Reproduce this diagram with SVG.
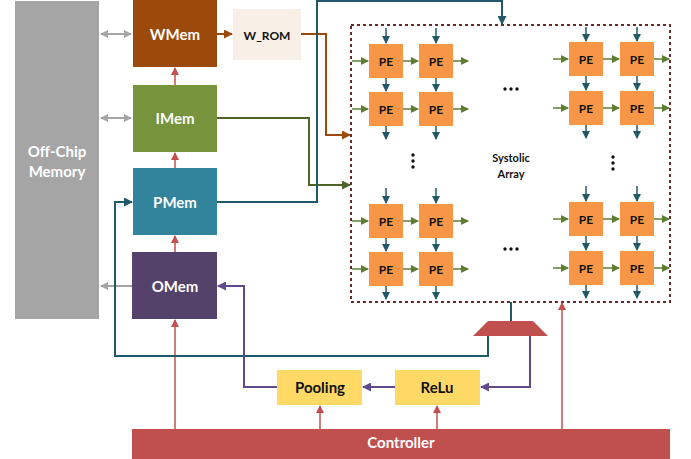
<svg xmlns="http://www.w3.org/2000/svg" width="691" height="459" viewBox="0 0 691 459">
<defs>
<style>
.lbl{font-family:Lato,"Liberation Sans",sans-serif;font-weight:bold;text-anchor:middle;dominant-baseline:central}
.w{fill:#ffffff;font-size:15px}
.k{fill:#111111;font-size:15px}
.pe{fill:#f79646}
.pet{font-family:Lato,"Liberation Sans",sans-serif;font-weight:bold;text-anchor:middle;dominant-baseline:central;font-size:12px;fill:#111}
.c{fill:none;stroke-width:2}
.gd{stroke:#215968;stroke-width:1.5;fill:none;marker-end:url(#mt)}
.gh{stroke:#5e7d32;stroke-width:1.5;fill:none;marker-end:url(#mg)}
</style>
<marker id="mt" markerUnits="userSpaceOnUse" markerWidth="8" markerHeight="8" refX="7" refY="4" orient="auto"><path d="M0,0 L8,4 L0,8 Z" fill="#215968"/></marker>
<marker id="mg" markerUnits="userSpaceOnUse" markerWidth="8" markerHeight="8" refX="7" refY="4" orient="auto"><path d="M0,0 L8,4 L0,8 Z" fill="#5e7d32"/></marker>
<marker id="mr" markerUnits="userSpaceOnUse" markerWidth="8" markerHeight="8" refX="7" refY="4" orient="auto"><path d="M0,0 L8,4 L0,8 Z" fill="#c0504d"/></marker>
<marker id="mgray" markerUnits="userSpaceOnUse" markerWidth="8" markerHeight="8" refX="7" refY="4" orient="auto-start-reverse"><path d="M0,0 L8,4 L0,8 Z" fill="#a5a5a5"/></marker>
<marker id="mb" markerUnits="userSpaceOnUse" markerWidth="9" markerHeight="9" refX="8" refY="4.5" orient="auto"><path d="M0,0 L9,4.5 L0,9 Z" fill="#9c4a0c"/></marker>
<marker id="mgr" markerUnits="userSpaceOnUse" markerWidth="9" markerHeight="9" refX="8" refY="4.5" orient="auto"><path d="M0,0 L9,4.5 L0,9 Z" fill="#4f6228"/></marker>
<marker id="mtl" markerUnits="userSpaceOnUse" markerWidth="9" markerHeight="9" refX="8" refY="4.5" orient="auto"><path d="M0,0 L9,4.5 L0,9 Z" fill="#215968"/></marker>
<marker id="mp" markerUnits="userSpaceOnUse" markerWidth="9" markerHeight="9" refX="8" refY="4.5" orient="auto"><path d="M0,0 L9,4.5 L0,9 Z" fill="#5f4b8b"/></marker>
</defs>

<g id="offchip"><rect x="15" y="1" width="84" height="318" fill="#a5a5a5"/><text class="lbl w" x="57" y="151">Off-Chip</text><text class="lbl w" x="57" y="171">Memory</text></g>
<g id="wmem"><rect x="133" y="0" width="84" height="67" fill="#9c4a0c"/><text class="lbl w" x="175" y="34">WMem</text></g>
<g id="wrom"><rect x="233" y="9" width="68" height="51" fill="#f8efe6"/><text class="lbl" x="267" y="35" style="font-size:12px;fill:#111">W_ROM</text></g>
<g id="imem"><rect x="133" y="85" width="84" height="67" fill="#77933c"/><text class="lbl w" x="175" y="118">IMem</text></g>
<g id="pmem"><rect x="133" y="168" width="84" height="67" fill="#31849b"/><text class="lbl w" x="175" y="202">PMem</text></g>
<g id="omem"><rect x="132" y="252" width="85" height="67" fill="#55426a"/><text class="lbl w" x="175" y="286">OMem</text></g>
<g id="pooling"><rect x="277" y="370" width="85" height="35" fill="#ffd966"/><text class="lbl k" x="320" y="387">Pooling</text></g>
<g id="relu"><rect x="395" y="370" width="85" height="35" fill="#ffd966"/><text class="lbl k" x="437" y="387">ReLu</text></g>
<g id="controller"><rect x="132" y="429" width="538" height="30" fill="#c0504d"/><text class="lbl w" x="401" y="442">Controller</text></g>
<g id="mux"><path d="M488,321 L533,321 L548,336 L473,336 Z" fill="#c0504d"/></g>

<g id="systolic">
<rect x="351" y="25" width="319" height="277" fill="none" stroke="#6b2a2a" stroke-width="2" stroke-dasharray="3,3"/>
<text class="lbl" x="511" y="157" style="font-size:11px;fill:#111">Systolic</text>
<text class="lbl" x="511" y="173" style="font-size:11px;fill:#111">Array</text>
<g fill="#111">
<circle cx="505" cy="89" r="1.7"/><circle cx="511" cy="89" r="1.7"/><circle cx="517" cy="89" r="1.7"/>
<circle cx="505" cy="249" r="1.7"/><circle cx="511" cy="249" r="1.7"/><circle cx="517" cy="249" r="1.7"/>
<circle cx="413" cy="155" r="1.7"/><circle cx="413" cy="161" r="1.7"/><circle cx="413" cy="167" r="1.7"/>
<circle cx="613" cy="157" r="1.7"/><circle cx="613" cy="163" r="1.7"/><circle cx="613" cy="169" r="1.7"/>
</g>
<g id="pe-grid">
<rect class="pe" x="369" y="44" width="34" height="34"/><text class="pet" x="386" y="61">PE</text>
<rect class="pe" x="419" y="44" width="34" height="34"/><text class="pet" x="436" y="61">PE</text>
<rect class="pe" x="369" y="92" width="34" height="34"/><text class="pet" x="386" y="109">PE</text>
<rect class="pe" x="419" y="92" width="34" height="34"/><text class="pet" x="436" y="109">PE</text>
<rect class="pe" x="369" y="204" width="34" height="34"/><text class="pet" x="386" y="221">PE</text>
<rect class="pe" x="419" y="204" width="34" height="34"/><text class="pet" x="436" y="221">PE</text>
<rect class="pe" x="369" y="252" width="34" height="34"/><text class="pet" x="386" y="269">PE</text>
<rect class="pe" x="419" y="252" width="34" height="34"/><text class="pet" x="436" y="269">PE</text>
<rect class="pe" x="569" y="42" width="34" height="34"/><text class="pet" x="586" y="59">PE</text>
<rect class="pe" x="620" y="42" width="34" height="34"/><text class="pet" x="637" y="59">PE</text>
<rect class="pe" x="569" y="91" width="34" height="34"/><text class="pet" x="586" y="108">PE</text>
<rect class="pe" x="620" y="91" width="34" height="34"/><text class="pet" x="637" y="108">PE</text>
<rect class="pe" x="569" y="202" width="34" height="34"/><text class="pet" x="586" y="219">PE</text>
<rect class="pe" x="620" y="202" width="34" height="34"/><text class="pet" x="637" y="219">PE</text>
<rect class="pe" x="569" y="251" width="34" height="34"/><text class="pet" x="586" y="268">PE</text>
<rect class="pe" x="620" y="251" width="34" height="34"/><text class="pet" x="637" y="268">PE</text>
</g>
</g>

<g id="connectors">
<g id="grid-arrows">
<path class="gd" d="M386,28V43"/><path class="gd" d="M436,28V43"/><path class="gd" d="M386,78V91"/><path class="gd" d="M436,78V91"/>
<path class="gd" d="M386,126V139"/><path class="gd" d="M436,126V139"/><path class="gd" d="M386,188V203"/><path class="gd" d="M436,188V203"/>
<path class="gd" d="M386,238V251"/><path class="gd" d="M436,238V251"/><path class="gd" d="M386,286V299"/><path class="gd" d="M436,286V299"/>
<path class="gd" d="M586,27V41"/><path class="gd" d="M637,27V41"/><path class="gd" d="M586,76V90"/><path class="gd" d="M637,76V90"/>
<path class="gd" d="M586,125V138"/><path class="gd" d="M637,125V138"/><path class="gd" d="M586,186V201"/><path class="gd" d="M637,186V201"/>
<path class="gd" d="M586,236V250"/><path class="gd" d="M637,236V250"/><path class="gd" d="M586,285V298"/><path class="gd" d="M637,285V298"/>
<path class="gh" d="M352,61H368"/><path class="gh" d="M403,61H418"/><path class="gh" d="M453,61H468"/>
<path class="gh" d="M352,109H368"/><path class="gh" d="M403,109H418"/><path class="gh" d="M453,109H468"/>
<path class="gh" d="M352,221H368"/><path class="gh" d="M403,221H418"/><path class="gh" d="M453,221H468"/>
<path class="gh" d="M352,269H368"/><path class="gh" d="M403,269H418"/><path class="gh" d="M453,269H468"/>
<path class="gh" d="M553,59H568"/><path class="gh" d="M603,59H619"/><path class="gh" d="M654,59H669"/>
<path class="gh" d="M553,108H568"/><path class="gh" d="M603,108H619"/><path class="gh" d="M654,108H669"/>
<path class="gh" d="M553,219H568"/><path class="gh" d="M603,219H619"/><path class="gh" d="M654,219H669"/>
<path class="gh" d="M553,268H568"/><path class="gh" d="M603,268H619"/><path class="gh" d="M654,268H669"/>
</g>
<path d="M101,34H131" stroke="#a5a5a5" stroke-width="2" marker-start="url(#mgray)" marker-end="url(#mgray)"/>
<path d="M101,118H131" stroke="#a5a5a5" stroke-width="2" marker-start="url(#mgray)" marker-end="url(#mgray)"/>
<path d="M132,286H101" stroke="#a5a5a5" stroke-width="2" marker-end="url(#mgray)"/>
<g stroke="#c0504d" stroke-width="1.5" fill="none" marker-end="url(#mr)">
<path d="M175,85V68"/><path d="M175,168V153"/><path d="M175,252V236"/><path d="M175,429V320"/>
<path d="M320,429V406"/><path d="M437,429V406"/><path d="M562,429V303"/>
</g>
<path class="c" d="M217,34H232" stroke="#9c4a0c" marker-end="url(#mb)"/>
<path class="c" d="M301,34H326V135H350" stroke="#9c4a0c" marker-end="url(#mb)"/>
<path class="c" d="M217,118H309V185H350" stroke="#4f6228" marker-end="url(#mgr)"/>
<path class="c" d="M217,202H317V1H502V24" stroke="#215968" marker-end="url(#mtl)"/>
<path class="c" d="M511,302V321" stroke="#215968"/>
<path class="c" d="M488,336V356H115V202H132" stroke="#215968" marker-end="url(#mtl)"/>
<path class="c" d="M530,336V387H481" stroke="#5f4b8b" marker-end="url(#mp)"/>
<path class="c" d="M395,387H363" stroke="#5f4b8b" marker-end="url(#mp)"/>
<path class="c" d="M277,387H244V286H218" stroke="#5f4b8b" marker-end="url(#mp)"/>
</g>
</svg>
